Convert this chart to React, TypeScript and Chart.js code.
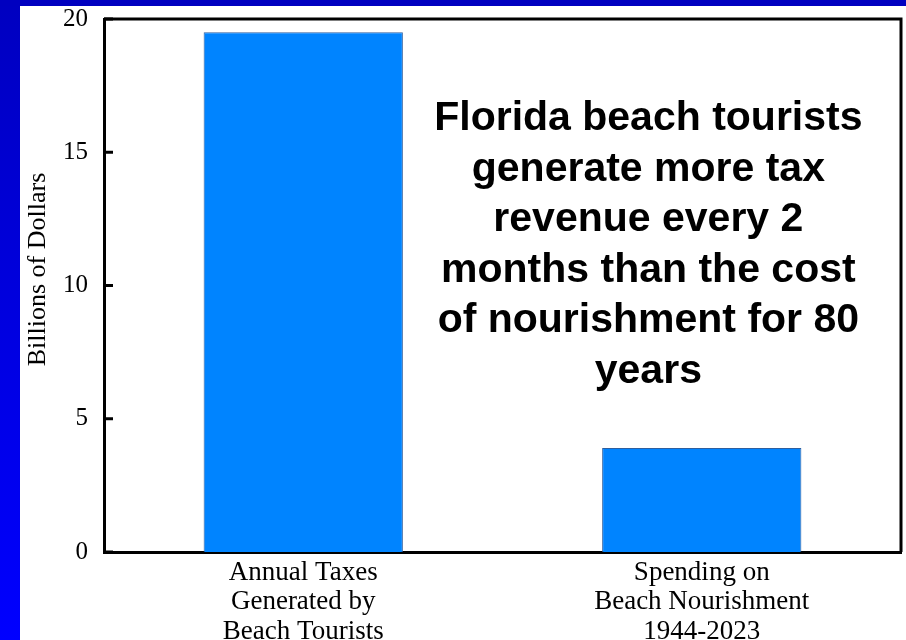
import React, { useEffect, useRef } from "react";
import { Chart, registerables } from "chart.js";

Chart.register(...registerables);

const categories: string[][] = [
  ["Annual Taxes", "Generated by", "Beach Tourists"],
  ["Spending on", "Beach Nourishment", "1944-2023"],
];
const values: number[] = [19.5, 3.9];
const yTickValues: number[] = [0, 5, 10, 15, 20];
const yAxisTitle = "Billions of Dollars";
const annotationLines: string[] = [
  "Florida beach tourists",
  "generate more tax",
  "revenue every 2",
  "months than the cost",
  "of nourishment for 80",
  "years",
];

const W = 906;
const H = 640;
const SERIF = "'Liberation Serif', 'Times New Roman', serif";

const backgroundPlugin = {
  id: "slideBackground",
  beforeDraw(chart: any) {
    const ctx = chart.ctx;
    ctx.save();
    ctx.fillStyle = "#ffffff";
    ctx.fillRect(0, 0, chart.width, chart.height);
    const g = ctx.createLinearGradient(0, 0, 0, chart.height);
    g.addColorStop(0, "#0000c0");
    g.addColorStop(1, "#0000ff");
    ctx.fillStyle = g;
    ctx.fillRect(0, 0, 20, chart.height);
    ctx.fillStyle = "#0000c0";
    ctx.fillRect(0, 0, chart.width, 6);
    ctx.restore();
  },
};

const frameAndTextPlugin = {
  id: "frameAndText",
  afterDraw(chart: any) {
    const ctx = chart.ctx;
    const a = chart.chartArea;
    const y = chart.scales.y;
    ctx.save();
    ctx.strokeStyle = "#000000";
    ctx.lineWidth = 3;
    ctx.beginPath();
    ctx.moveTo(a.left, a.top);
    ctx.lineTo(a.right, a.top);
    ctx.lineTo(a.right, a.bottom);
    ctx.stroke();
    // inward ticks
    y.ticks.forEach((t: any) => {
      const py = y.getPixelForValue(t.value);
      ctx.beginPath();
      ctx.moveTo(a.left, py);
      ctx.lineTo(a.left + 9, py);
      ctx.stroke();
    });
    // y axis title
    ctx.fillStyle = "#000000";
    ctx.font = `26px ${SERIF}`;
    ctx.textAlign = "center";
    ctx.textBaseline = "middle";
    ctx.translate(38, a.top + (a.bottom - a.top) * 0.47);
    ctx.rotate(-Math.PI / 2);
    ctx.fillText(yAxisTitle, 0, 0);
    ctx.setTransform(1, 0, 0, 1, 0, 0);
    // annotation
    ctx.font = "bold 41px 'Liberation Sans', Arial, sans-serif";
    ctx.textAlign = "center";
    ctx.textBaseline = "alphabetic";
    const cx = a.left + (a.right - a.left) * 0.683;
    annotationLines.forEach((line, i) => {
      ctx.fillText(line, cx, a.top + 111 + i * 50.6);
    });
    ctx.restore();
  },
};

export default function App() {
  const ref = useRef<HTMLCanvasElement | null>(null);
  useEffect(() => {
    if (!ref.current) return;
    const chart = new Chart(ref.current, {
      type: "bar",
      data: {
        labels: categories,
        datasets: [
          {
            data: values,
            backgroundColor: "#0084ff",
            borderColor: "#2f5f9f",
            borderWidth: 1,
            categoryPercentage: 1,
            barPercentage: 0.5,
          },
        ],
      },
      options: {
        responsive: false,
        animation: false,
        devicePixelRatio: 1,
        layout: { padding: { top: 19, right: 5, left: 0, bottom: 0 } },
        plugins: {
          legend: { display: false },
          tooltip: { enabled: false },
        },
        scales: {
          x: {
            grid: { display: false, drawTicks: false },
            border: { display: true, color: "#000000", width: 3 },
            ticks: {
              color: "#000000",
              padding: 6,
              maxRotation: 0,
              autoSkip: false,
              font: { family: SERIF, size: 27, lineHeight: 1.09 },
            },
            afterFit: (s: any) => {
              s.height = 88;
              s.paddingLeft = 0;
              s.paddingRight = 0;
            },
          },
          y: {
            min: 0,
            max: 20,
            afterBuildTicks: (s: any) => {
              s.ticks = yTickValues.map((v) => ({ value: v }));
            },
            grid: { display: false, drawTicks: false },
            border: { display: true, color: "#000000", width: 3 },
            ticks: {
              color: "#000000",
              padding: 16,
              font: { family: SERIF, size: 25 },
            },
            afterFit: (s: any) => {
              s.width = 104;
              s.paddingTop = 0;
              s.paddingBottom = 0;
            },
          },
        },
      },
      plugins: [backgroundPlugin, frameAndTextPlugin],
    });
    return () => chart.destroy();
  }, []);
  return (
    <div style={{ position: "fixed", left: 0, top: 0, width: W, height: H }}>
      <canvas ref={ref} width={W} height={H} style={{ display: "block" }} />
    </div>
  );
}
